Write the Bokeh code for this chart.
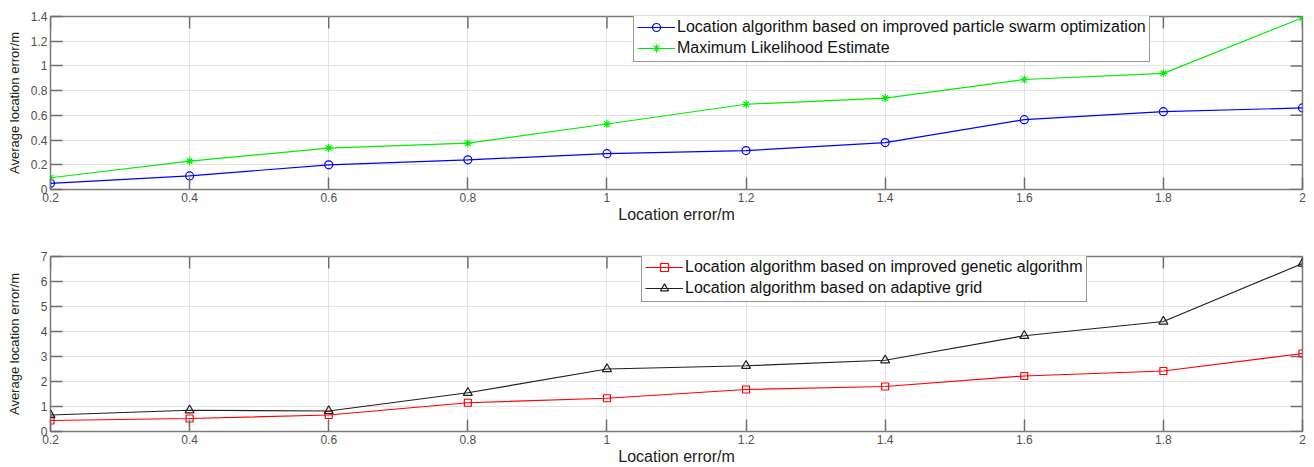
import math
from bokeh.plotting import figure
from bokeh.models import Legend, LegendItem, FixedTicker, Range1d
from bokeh.layouts import column
from bokeh.embed import file_html
from bokeh.resources import INLINE

# ---- data ----
x_values = [0.2, 0.4, 0.6, 0.8, 1.0, 1.2, 1.4, 1.6, 1.8, 2.0]
x_tick_labels = ["0.2", "0.4", "0.6", "0.8", "1", "1.2", "1.4", "1.6", "1.8", "2"]

pso_err = [0.05, 0.11, 0.20, 0.24, 0.29, 0.315, 0.38, 0.565, 0.63, 0.66]
mle_err = [0.095, 0.23, 0.335, 0.375, 0.53, 0.69, 0.74, 0.89, 0.94, 1.39]
ga_err = [0.44, 0.52, 0.66, 1.15, 1.33, 1.68, 1.80, 2.22, 2.42, 3.12]
grid_err = [0.66, 0.85, 0.82, 1.55, 2.50, 2.63, 2.85, 3.83, 4.40, 6.72]

top_y_ticks = [0, 0.2, 0.4, 0.6, 0.8, 1.0, 1.2, 1.4]
top_y_labels = ["0", "0.2", "0.4", "0.6", "0.8", "1", "1.2", "1.4"]
bot_y_ticks = [0, 1, 2, 3, 4, 5, 6, 7]
bot_y_labels = ["0", "1", "2", "3", "4", "5", "6", "7"]

series_top = [
    ("Location algorithm based on improved particle swarm optimization", pso_err, "#0000ff", "circle", 8),
    ("Maximum Likelihood Estimate", mle_err, "#00ee00", "asterisk", 8),
]
series_bot = [
    ("Location algorithm based on improved genetic algorithm", ga_err, "#ff0000", "square", 7),
    ("Location algorithm based on adaptive grid", grid_err, "#202020", "triangle", 9),
]

FONT = "Liberation Sans"
TICK_COLOR = "#6e6e6e"
TICK_LEN = 12


def style_axis(ax):
    ax.axis_line_color = None
    ax.major_tick_in = TICK_LEN
    ax.major_tick_out = 0
    ax.minor_tick_line_color = None
    ax.major_tick_line_color = TICK_COLOR
    ax.major_tick_line_width = 1.5
    ax.major_label_text_font = FONT
    ax.major_label_text_color = "#505050"
    ax.major_label_text_font_size = "12px"
    ax.major_label_standoff = 3


def make_fig(height, border_top, border_bottom, y_end, y_ticks, y_labels, series,
             legend_xy, ylabel_standoff):
    p = figure(width=1314, height=height, output_backend="svg", toolbar_location=None,
               x_range=Range1d(0.2, 2.0), y_range=Range1d(0, y_end),
               min_border_left=50, min_border_right=12, min_border_top=border_top,
               min_border_bottom=border_bottom)
    p.outline_line_color = "#7a7a7a"
    p.outline_line_width = 1.5
    p.background_fill_color = "white"

    p.xaxis.ticker = FixedTicker(ticks=x_values)
    p.yaxis.ticker = FixedTicker(ticks=y_ticks)
    p.xaxis.major_label_overrides = {v: s for v, s in zip(x_values, x_tick_labels)}
    p.yaxis.major_label_overrides = {v: s for v, s in zip(y_ticks, y_labels)}
    style_axis(p.xaxis[0])
    style_axis(p.yaxis[0])
    p.xaxis.axis_label = "Location error/m"
    p.xaxis.axis_label_text_font = FONT
    p.xaxis.axis_label_text_font_size = "16px"
    p.xaxis.axis_label_text_font_style = "normal"
    p.xaxis.axis_label_text_color = "#222222"
    p.xaxis.axis_label_standoff = 1
    p.yaxis.axis_label = "Average location error/m"
    p.yaxis.axis_label_text_font = FONT
    p.yaxis.axis_label_text_font_size = "13px"
    p.yaxis.axis_label_text_font_style = "normal"
    p.yaxis.axis_label_text_color = "#222222"
    p.yaxis.axis_label_standoff = ylabel_standoff

    p.grid.grid_line_color = "#e3e3e3"
    p.grid.grid_line_width = 1

    # inward ticks on the top and right edges of the box
    p.ray(x=x_values, y=[y_end] * len(x_values), length=TICK_LEN, length_units="screen",
          angle=-math.pi / 2, line_color=TICK_COLOR, line_width=1.5)
    p.ray(x=[x_values[-1]] * len(y_ticks), y=y_ticks, length=TICK_LEN, length_units="screen",
          angle=math.pi, line_color=TICK_COLOR, line_width=1.5)

    items = []
    for label, vals, color, marker, size in series:
        lr = p.line(x_values, vals, line_color=color, line_width=1.2)
        sr = p.scatter(x_values, vals, marker=marker, size=size, line_color=color,
                       fill_color=None, line_width=1.2)
        items.append(LegendItem(label=label, renderers=[lr, sr]))

    legend = Legend(items=items, location=legend_xy)
    legend.label_text_font = FONT
    legend.label_text_font_size = "16px"
    legend.label_text_color = "#111111"
    legend.glyph_width = 38
    legend.glyph_height = 20
    legend.label_height = 20
    legend.label_standoff = 2
    legend.spacing = 1
    legend.padding = 3
    legend.margin = 0
    legend.border_line_color = "#333333"
    legend.border_line_width = 1
    legend.background_fill_alpha = 1
    p.add_layout(legend)
    return p


p_top = make_fig(235, 16, 46, 1.4, top_y_ticks, top_y_labels, series_top, (583, 127), 6)
p_bot = make_fig(232, 21, 36, 7, bot_y_ticks, bot_y_labels, series_bot, (591, 129), 16)

layout = column(p_top, p_bot, spacing=0)
open("out.html", "w").write(file_html(layout, INLINE))
